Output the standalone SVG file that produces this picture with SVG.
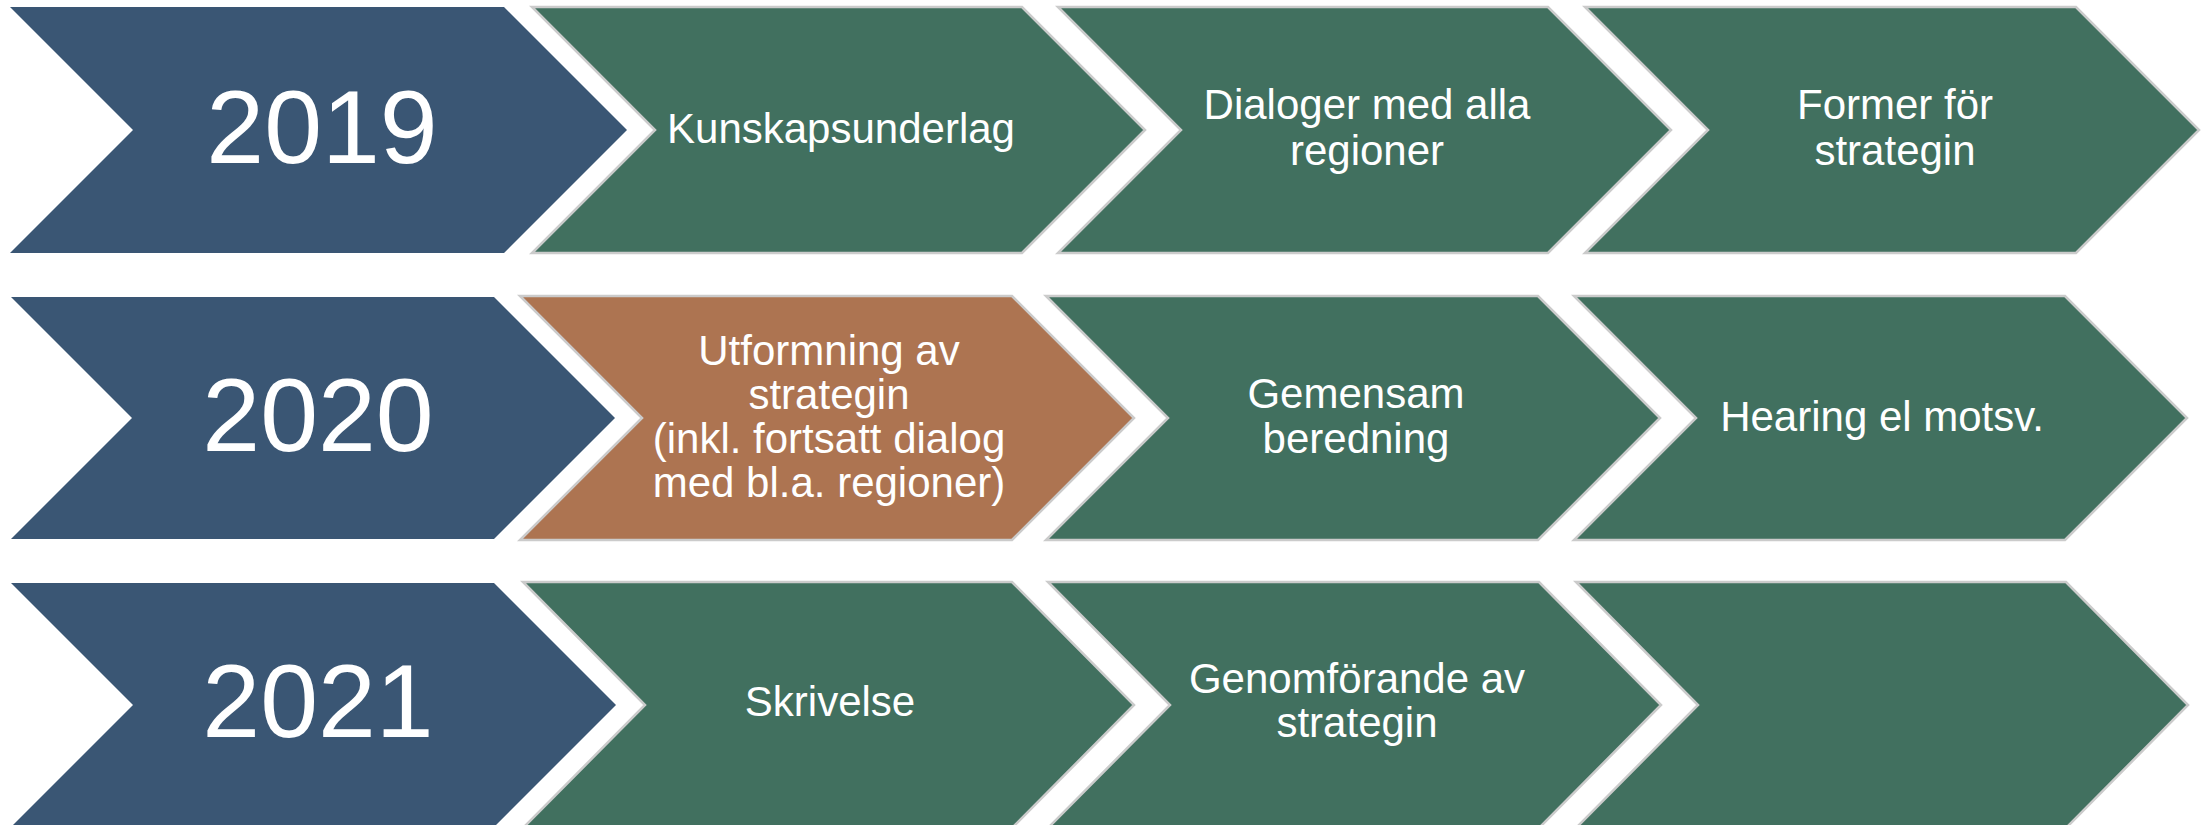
<svg xmlns="http://www.w3.org/2000/svg" width="2208" height="825" viewBox="0 0 2208 825">
<style>
.yr{fill:#3A5674;}
.st{fill:#41705F;stroke:#CBCBCB;stroke-width:2.5;}
.hl{fill:#AD7451;stroke:#CBCBCB;stroke-width:2.5;}
text{font-family:"Liberation Sans",Arial,sans-serif;fill:#FFFFFF;text-anchor:middle;}
.y{font-size:104px;}
.t{font-size:42px;}
</style>
<rect width="2208" height="825" fill="#FFFFFF"/>
<g id="row1">
<g id="y2019"><polygon class="yr" points="10,7 504,7 627,130 504,253 10,253 133,130"/><text class="y" x="322" y="163">2019</text></g>
<g id="kunskapsunderlag"><polygon class="st" points="532,7 1022,7 1145,130 1022,253 532,253 655,130"/><text class="t" x="841" y="143">Kunskapsunderlag</text></g>
<g id="dialoger"><polygon class="st" points="1058,7 1548,7 1671,130 1548,253 1058,253 1181,130"/><text class="t" x="1367" y="119">Dialoger med alla</text><text class="t" x="1367" y="165">regioner</text></g>
<g id="former"><polygon class="st" points="1585,7 2076,7 2199,130 2076,253 1585,253 1708,130"/><text class="t" x="1895" y="119">Former för</text><text class="t" x="1895" y="165">strategin</text></g>
</g>
<g id="row2">
<g id="y2020"><polygon class="yr" points="11,297 494,297 615,418 494,539 11,539 132,418"/><text class="y" x="318" y="451">2020</text></g>
<g id="utformning"><polygon class="hl" points="520,296 1012,296 1134,418 1012,540 520,540 642,418"/><text class="t" x="829" y="365">Utformning av</text><text class="t" x="829" y="409">strategin</text><text class="t" x="829" y="453">(inkl. fortsatt dialog</text><text class="t" x="829" y="497">med bl.a. regioner)</text></g>
<g id="gemensam"><polygon class="st" points="1046,296 1538,296 1660,418 1538,540 1046,540 1168,418"/><text class="t" x="1356" y="408">Gemensam</text><text class="t" x="1356" y="453">beredning</text></g>
<g id="hearing"><polygon class="st" points="1574,296 2065,296 2187,418 2065,540 1574,540 1696,418"/><text class="t" x="1882" y="431">Hearing el motsv.</text></g>
</g>
<g id="row3">
<g id="y2021"><polygon class="yr" points="11,583 494,583 616,705 494,827 11,827 133,705"/><text class="y" x="318" y="737">2021</text></g>
<g id="skrivelse"><polygon class="st" points="523,582 1012,582 1134,705 1012,828 523,828 645,705"/><text class="t" x="830" y="716">Skrivelse</text></g>
<g id="genomforande"><polygon class="st" points="1048,582 1539,582 1661,705 1539,828 1048,828 1170,705"/><text class="t" x="1357" y="693">Genomförande av</text><text class="t" x="1357" y="737">strategin</text></g>
<g id="empty"><polygon class="st" points="1576,582 2066,582 2188,705 2066,828 1576,828 1698,705"/></g>
</g>
<g id="connectors"/>
</svg>
